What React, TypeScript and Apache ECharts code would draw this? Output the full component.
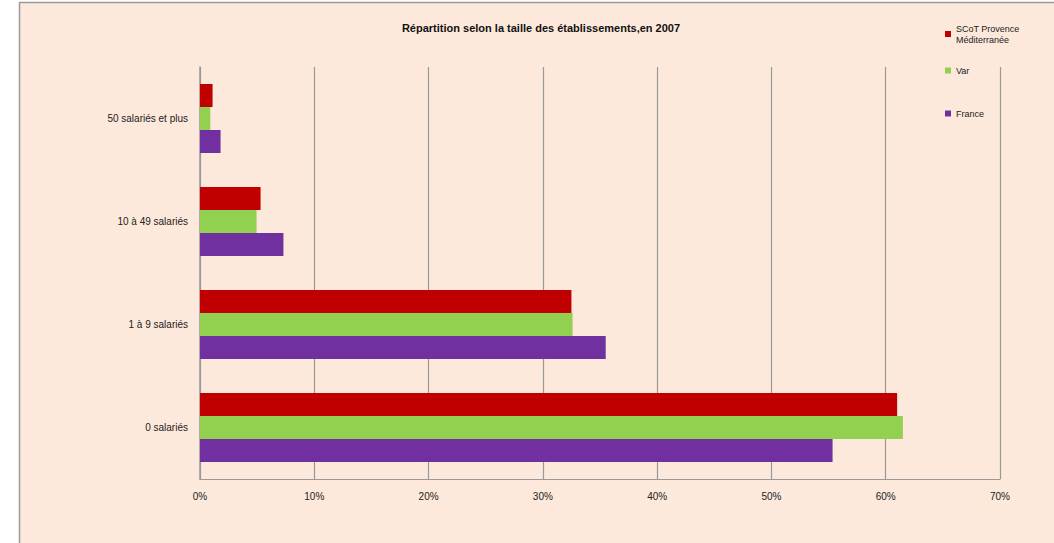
import React, { useEffect, useRef } from "react";
import * as echarts from "echarts";

const categories = ["0 salariés", "1 à 9 salariés", "10 à 49 salariés", "50 salariés et plus"];
const scotValues = [61.0, 32.5, 5.3, 1.1];
const varValues = [61.5, 32.6, 4.95, 0.9];
const franceValues = [55.35, 35.5, 7.3, 1.8];
const xTicks = [0, 10, 20, 30, 40, 50, 60, 70];

const FONT = "'Liberation Sans', Arial, sans-serif";

export default function App() {
  const ref = useRef<HTMLDivElement>(null);
  useEffect(() => {
    if (!ref.current) return;
    const chart = echarts.init(ref.current, undefined, { renderer: "svg" });
    const legendText = { fontFamily: FONT, fontSize: 9, color: "#222", lineHeight: 11 };
    const legendBase = {
      left: 940,
      itemWidth: 6,
      itemHeight: 6,
      icon: "rect",
      textStyle: legendText,
      selectedMode: false,
    };
    chart.setOption({
      animation: false,
      backgroundColor: "#ffffff",
      graphic: [
        {
          type: "rect",
          silent: true,
          z: -10,
          shape: { x: 19.5, y: 2.5, width: 1100, height: 600 },
          style: { fill: "#fde9db", stroke: "#9a9a9a", lineWidth: 1.5 },
        },
      ],
      title: {
        text: "Répartition selon la taille des établissements,en 2007",
        left: 536,
        top: 17,
        textAlign: "center",
        textStyle: { fontFamily: FONT, fontSize: 11, fontWeight: "bold", color: "#111" },
      },
      legend: [
        {
          ...legendBase,
          data: ["SCoT Provence Méditerranée"],
          top: 18,
          formatter: () => "SCoT Provence\nMéditerranée",
        },
        { ...legendBase, data: ["Var"], top: 60 },
        { ...legendBase, data: ["France"], top: 103 },
      ],
      grid: { left: 200, right: 54, top: 67, height: 412, containLabel: false },
      xAxis: {
        type: "value",
        min: xTicks[0],
        max: xTicks[xTicks.length - 1],
        interval: 10,
        axisLine: { show: true, lineStyle: { color: "#999", width: 1 } },
        axisTick: { show: false },
        axisLabel: {
          formatter: "{value}%",
          fontFamily: FONT,
          fontSize: 10,
          color: "#222",
          margin: 12,
        },
        splitLine: { show: true, lineStyle: { color: "#999", width: 1.2 } },
      },
      yAxis: {
        type: "category",
        data: categories,
        axisLine: { show: true, lineStyle: { color: "#999", width: 1.5 } },
        axisTick: { show: false },
        axisLabel: { fontFamily: FONT, fontSize: 10, color: "#222", margin: 12 },
      },
      series: [
        {
          name: "SCoT Provence Méditerranée",
          type: "bar",
          data: scotValues,
          barWidth: 23,
          barGap: "0%",
          itemStyle: { color: "#C00000" },
        },
        {
          name: "Var",
          type: "bar",
          data: varValues,
          barWidth: 23,
          barGap: "0%",
          itemStyle: { color: "#92D050" },
        },
        {
          name: "France",
          type: "bar",
          data: franceValues,
          barWidth: 23,
          barGap: "0%",
          itemStyle: { color: "#7030A0" },
        },
      ],
    });
    return () => chart.dispose();
  }, []);
  return (
    <div
      ref={ref}
      style={{ position: "absolute", left: 0, top: 0, width: 1054, height: 543 }}
    />
  );
}
